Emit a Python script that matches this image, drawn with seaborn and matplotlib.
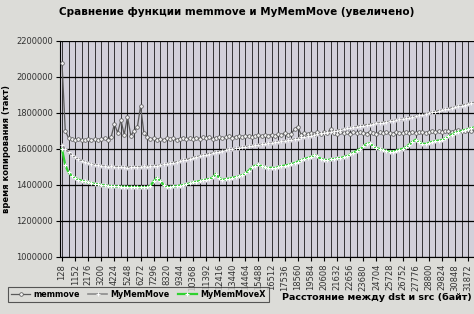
import numpy as np
import pandas as pd
import matplotlib
matplotlib.use("Agg")
import matplotlib.pyplot as plt
import seaborn as sns

# categories: distance between dst and src (bytes)
bytes_dist = list(range(128, 128 + 256 * 128, 256))
tick_labels = [str(v) for v in range(128, 32000, 1024)]

# values in thousands of cycles
memmove_k = [
    2080, 1700, 1662, 1655, 1650, 1656, 1652, 1648, 1655, 1650,
    1653, 1648, 1656, 1660, 1652, 1665, 1740, 1690, 1760, 1680,
    1780, 1675, 1700, 1720, 1840, 1690, 1665, 1655, 1660, 1652,
    1658, 1650, 1660, 1655, 1662, 1650, 1658, 1663, 1655, 1660,
    1656, 1662, 1658, 1665, 1660, 1668, 1655, 1662, 1666, 1660,
    1664, 1670, 1662, 1668, 1672, 1665, 1670, 1675, 1668, 1672,
    1676, 1670, 1678, 1674, 1680, 1672, 1682, 1676, 1690, 1678,
    1685, 1710, 1725, 1680, 1688, 1682, 1690, 1684, 1692, 1686,
    1695, 1688, 1712, 1690, 1684, 1692, 1688, 1695, 1686, 1692,
    1688, 1694, 1690, 1686, 1696, 1690, 1684, 1692, 1688, 1694,
    1690, 1686, 1695, 1690, 1688, 1694, 1690, 1696, 1688, 1692,
    1696, 1690, 1694, 1698, 1692, 1700, 1694, 1698, 1702, 1696,
    1700, 1704, 1698, 1702, 1706, 1700, 1704, 1708,
]
mymemmove_k = [
    1620, 1600, 1582, 1566, 1553, 1546, 1535, 1530, 1521, 1517,
    1511, 1510, 1506, 1505, 1502, 1503, 1499, 1502, 1498, 1500,
    1497, 1501, 1499, 1502, 1499, 1503, 1502, 1505, 1505, 1508,
    1509, 1514, 1515, 1521, 1523, 1529, 1531, 1538, 1540, 1547,
    1551, 1557, 1560, 1566, 1568, 1575, 1577, 1583, 1585, 1591,
    1593, 1598, 1599, 1604, 1605, 1610, 1611, 1615, 1616, 1620,
    1621, 1626, 1627, 1631, 1632, 1637, 1638, 1642, 1643, 1648,
    1649, 1655, 1658, 1665, 1666, 1672, 1674, 1680, 1681, 1687,
    1689, 1695, 1696, 1701, 1702, 1707, 1709, 1714, 1715, 1721,
    1723, 1729, 1730, 1735, 1736, 1741, 1742, 1746, 1747, 1752,
    1753, 1758, 1759, 1764, 1765, 1771, 1773, 1779, 1781, 1787,
    1789, 1796, 1799, 1805, 1807, 1813, 1815, 1821, 1823, 1830,
    1832, 1839, 1841, 1847, 1849, 1856, 1857, 1863,
]
mymemmovex_k = [
    1600, 1510, 1470, 1450, 1440, 1430, 1424, 1420, 1414, 1410,
    1406, 1404, 1400, 1398, 1395, 1394, 1392, 1393, 1390, 1391,
    1389, 1390, 1388, 1390, 1387, 1389, 1388, 1395, 1422, 1440,
    1424, 1400, 1390, 1389, 1392, 1394, 1397, 1400, 1404, 1409,
    1414, 1418, 1422, 1426, 1430, 1434, 1442, 1462, 1440, 1430,
    1432, 1436, 1440, 1444, 1448, 1455, 1465, 1480, 1498, 1508,
    1514, 1504, 1498, 1494, 1496, 1494, 1500, 1505, 1508, 1512,
    1516, 1522, 1530, 1538, 1545, 1550, 1556, 1565, 1560, 1546,
    1540, 1538, 1542, 1545, 1548, 1550, 1555, 1561, 1570, 1580,
    1590, 1600, 1614, 1628, 1632, 1616, 1605, 1600, 1595, 1590,
    1585, 1586, 1590, 1596, 1601, 1610, 1625, 1640, 1652, 1640,
    1630, 1628, 1634, 1640, 1644, 1647, 1650, 1660, 1670, 1680,
    1690, 1695, 1700, 1706, 1710, 1716, 1720, 1724,
]
series_names = ["memmove", "MyMemMove", "MyMemMoveX"]
y_ticks = [1000000, 1200000, 1400000, 1600000, 1800000, 2000000, 2200000]

frames = []
for name, vals in zip(series_names, [memmove_k, mymemmove_k, mymemmovex_k]):
    frames.append(pd.DataFrame({"bytes": bytes_dist,
                                "cycles": np.array(vals) * 1000,
                                "series": name}))
df = pd.concat(frames, ignore_index=True)

fig_bg = "#dcdcd8"
plot_bg = "#d2d0da"
fig = plt.figure(figsize=(4.74, 3.14), dpi=100, facecolor=fig_bg)
ax = fig.add_axes([60 / 474, 57 / 314, 414 / 474, 216 / 314])
ax.set_facecolor(plot_bg)

styles = {
    "memmove": dict(color="#5a5a5a", marker="o", markersize=2.6,
                    markerfacecolor="#f0f0f0", markeredgecolor="#505050",
                    markeredgewidth=0.5, linewidth=0.9),
    "MyMemMove": dict(color="#8c8c8c", marker="+", markersize=3,
                      markeredgewidth=0.6, linewidth=1.2),
    "MyMemMoveX": dict(color="#2fd22f", marker="+", markersize=3,
                       markeredgewidth=0.8, linewidth=1.6),
}
for name in series_names:
    sub = df[df["series"] == name]
    sns.lineplot(data=sub, x="bytes", y="cycles", ax=ax, label=name,
                 zorder=3, **styles[name])

# grid: vertical every 512 bytes, horizontal every 200000
for xv in range(128, 33000, 512):
    ax.axvline(xv, color="#1a1a1a", linewidth=0.6, zorder=1)
for yv in y_ticks:
    ax.axhline(yv, color="black", linewidth=0.9, zorder=1)

ax.set_xlim(-28, 32333)
ax.set_ylim(1000000, 2200000)
ax.set_yticks(y_ticks)
ax.set_yticklabels([str(v) for v in y_ticks], fontsize=6, color="#333333")
ax.set_xticks(list(range(128, 32000, 1024)))
ax.set_xticklabels(tick_labels, rotation=90, fontsize=6, color="#333333")
ax.tick_params(axis="both", length=3, width=0.8, color="black", pad=2)
ax.set_xlabel("")
ax.set_ylabel("время копирования (такт)", fontsize=6, fontweight="bold",
              labelpad=4)
for side in ["top", "right"]:
    ax.spines[side].set_visible(False)
for side in ["left", "bottom"]:
    ax.spines[side].set_color("black")
    ax.spines[side].set_linewidth(0.8)

ax.legend_.remove()
handles, labels = ax.get_legend_handles_labels()
leg = fig.legend(handles, labels, loc="lower left", ncol=3,
                 bbox_to_anchor=(4 / 474, 8 / 314), fontsize=5.8,
                 frameon=True, fancybox=False, edgecolor="#333333",
                 facecolor=fig_bg, handlelength=2.4, handletextpad=0.4,
                 columnspacing=1.0, borderpad=0.35)
for t in leg.get_texts():
    t.set_fontweight("bold")
leg.get_frame().set_linewidth(0.8)

fig.text(0.5, 1 - 12 / 314, "Сравнение функции memmove и MyMemMove (увеличено)",
         ha="center", va="center", fontsize=7.5, fontweight="bold")
fig.text(472 / 474, 1 - 297 / 314, "Расстояние между dst и src (байт)",
         ha="right", va="center", fontsize=6.8, fontweight="bold")

fig.savefig("out.png", dpi=100, facecolor=fig_bg)
